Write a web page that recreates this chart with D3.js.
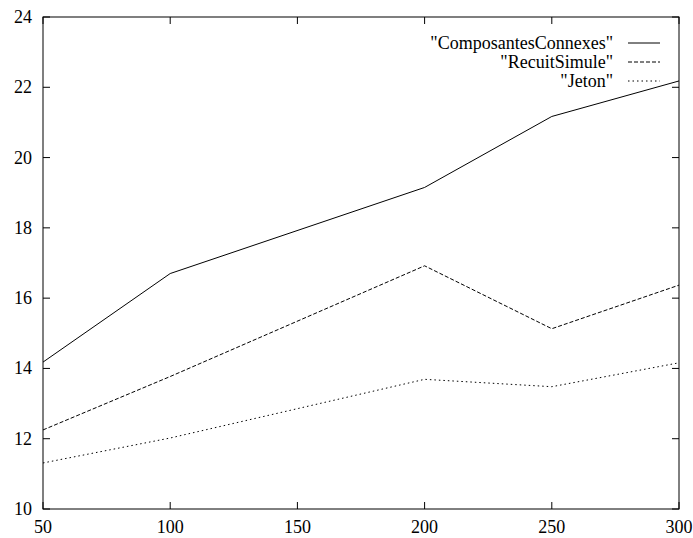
<!DOCTYPE html>
<html><head><meta charset="utf-8">
<script src="https://cdn.jsdelivr.net/npm/d3@7"></script>
<style>body{margin:0;background:#fff}svg{display:block}</style>
</head><body>
<svg id="c" width="693" height="538"></svg>
<script>
const xValues = [50, 100, 200, 250, 300];
const composantes = [14.18, 16.7, 19.15, 21.17, 22.18];
const recuit = [12.25, 13.77, 16.92, 15.13, 16.37];
const jeton = [11.31, 12.02, 13.69, 13.48, 14.16];
const seriesNames = ['"ComposantesConnexes"', '"RecuitSimule"', '"Jeton"'];
const xTicks = [50, 100, 150, 200, 250, 300];
const yTicks = [10, 12, 14, 16, 18, 20, 22, 24];

const svg = d3.select("#c");
const L = 43, R = 679, T = 17, B = 509;
const x = d3.scaleLinear().domain([50, 300]).range([L, R]);
const y = d3.scaleLinear().domain([10, 24]).range([B, T]);
const tl = 7;
const FF = "'Liberation Serif', 'Noto Serif', 'DejaVu Serif', Tinos, 'Nimbus Roman', FreeSerif, 'Times New Roman', Times, serif";

const g = svg.append("g");
xTicks.forEach(v => {
  g.append("line").attr("x1", x(v)).attr("x2", x(v)).attr("y1", B).attr("y2", B - tl).attr("stroke", "#000");
  g.append("line").attr("x1", x(v)).attr("x2", x(v)).attr("y1", T).attr("y2", T + tl).attr("stroke", "#000");
  g.append("text").attr("x", x(v)).attr("y", 527).attr("text-anchor", "middle").attr("dominant-baseline", "central")
    .style("font-family", FF).style("font-size", "18px").text(v);
});
yTicks.forEach(v => {
  g.append("line").attr("x1", L).attr("x2", L + tl).attr("y1", y(v)).attr("y2", y(v)).attr("stroke", "#000");
  g.append("line").attr("x1", R).attr("x2", R - tl).attr("y1", y(v)).attr("y2", y(v)).attr("stroke", "#000");
  g.append("text").attr("x", 32).attr("y", y(v)).attr("text-anchor", "end").attr("dominant-baseline", "central")
    .style("font-family", FF).style("font-size", "18px").text(v);
});
g.append("rect").attr("x", L).attr("y", T).attr("width", R - L).attr("height", B - T)
  .attr("fill", "none").attr("stroke", "#000").attr("stroke-width", 1);

const series = [
  {name: seriesNames[0], vals: composantes, dash: null},
  {name: seriesNames[1], vals: recuit, dash: "4,2"},
  {name: seriesNames[2], vals: jeton, dash: "1.5,3"}
];
const line = d3.line().x(d => x(d[0])).y(d => y(d[1]));
series.forEach((s, i) => {
  const p = svg.append("path").datum(xValues.map((xv, j) => [xv, s.vals[j]]))
    .attr("d", line).attr("fill", "none").attr("stroke", "#000").attr("stroke-width", 1);
  if (s.dash) p.attr("stroke-dasharray", s.dash);
  const ly = 43 + i * 19;
  svg.append("text").attr("x", 613).attr("y", ly).attr("text-anchor", "end").attr("dominant-baseline", "central")
    .style("font-family", FF).style("font-size", "18px").text(s.name);
  const l = svg.append("line").attr("x1", 628).attr("x2", 660).attr("y1", ly).attr("y2", ly).attr("stroke", "#000");
  if (s.dash) l.attr("stroke-dasharray", s.dash);
});
</script>
</body></html>
